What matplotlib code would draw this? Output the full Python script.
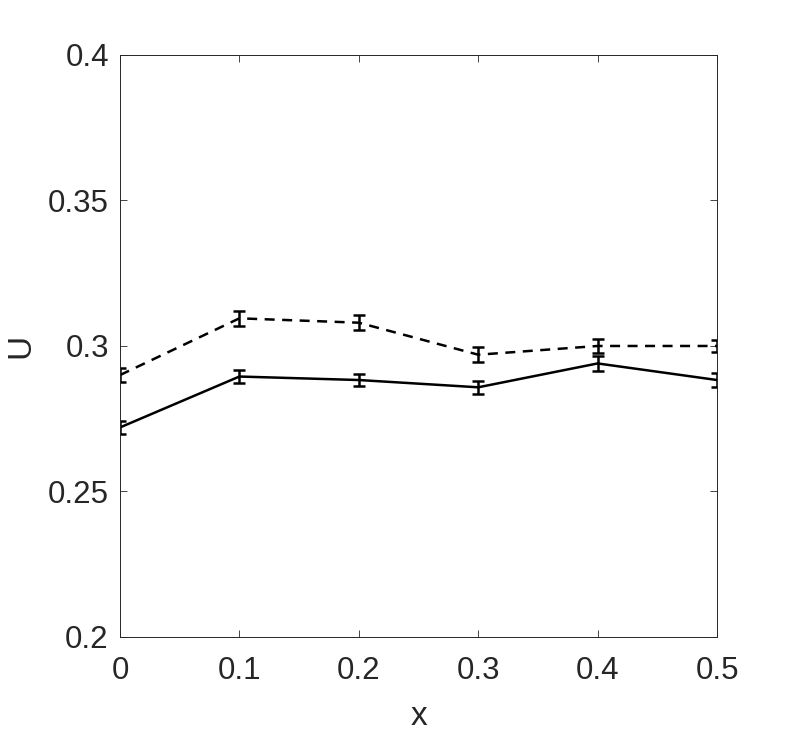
import matplotlib
matplotlib.use("Agg")
import matplotlib.pyplot as plt

x = [0, 0.1, 0.2, 0.3, 0.4, 0.5]
u_dashed = [0.290, 0.3095, 0.308, 0.297, 0.300, 0.300]
err_dashed = [0.0023, 0.0025, 0.0025, 0.0025, 0.0025, 0.0022]
u_solid = [0.272, 0.2895, 0.2883, 0.2858, 0.2940, 0.2883]
err_solid = [0.0023, 0.0022, 0.0022, 0.0023, 0.0025, 0.0023]
xticks = [0, 0.1, 0.2, 0.3, 0.4, 0.5]
yticks = [0.2, 0.25, 0.3, 0.35, 0.4]

plt.rcParams['font.family'] = ['Liberation Sans', 'DejaVu Sans']
fig = plt.figure(figsize=(7.93, 7.33), dpi=100)
ax = fig.add_axes([0.1513, 0.131, 0.7529, 0.794])
ax.errorbar(x, u_dashed, yerr=err_dashed, color='black', linestyle='--', linewidth=1.8,
            capsize=4, elinewidth=1.8, capthick=1.8, dashes=(4, 3))
ax.errorbar(x, u_solid, yerr=err_solid, color='black', linestyle='-', linewidth=1.8,
            capsize=4, elinewidth=1.8, capthick=1.8)
ax.set_xlim(0, 0.5)
ax.set_ylim(0.2, 0.4)
ax.set_xticks(xticks)
ax.set_xticklabels(['0', '0.1', '0.2', '0.3', '0.4', '0.5'])
ax.set_yticks(yticks)
ax.set_yticklabels(['0.2', '0.25', '0.3', '0.35', '0.4'])
ax.tick_params(direction='in', top=True, right=True, labelsize=22.5, colors='#262626', length=5, width=0.6)
ax.tick_params(axis='x', pad=13.5)
ax.tick_params(axis='y', pad=8)
for s in ax.spines.values():
    s.set_color('#262626')
    s.set_linewidth(0.7)
ax.set_xlabel('x', fontsize=24, color='#262626', labelpad=11)
ax.set_ylabel('U', fontsize=24, color='#262626', labelpad=8)
fig.savefig('out.png', dpi=100)
